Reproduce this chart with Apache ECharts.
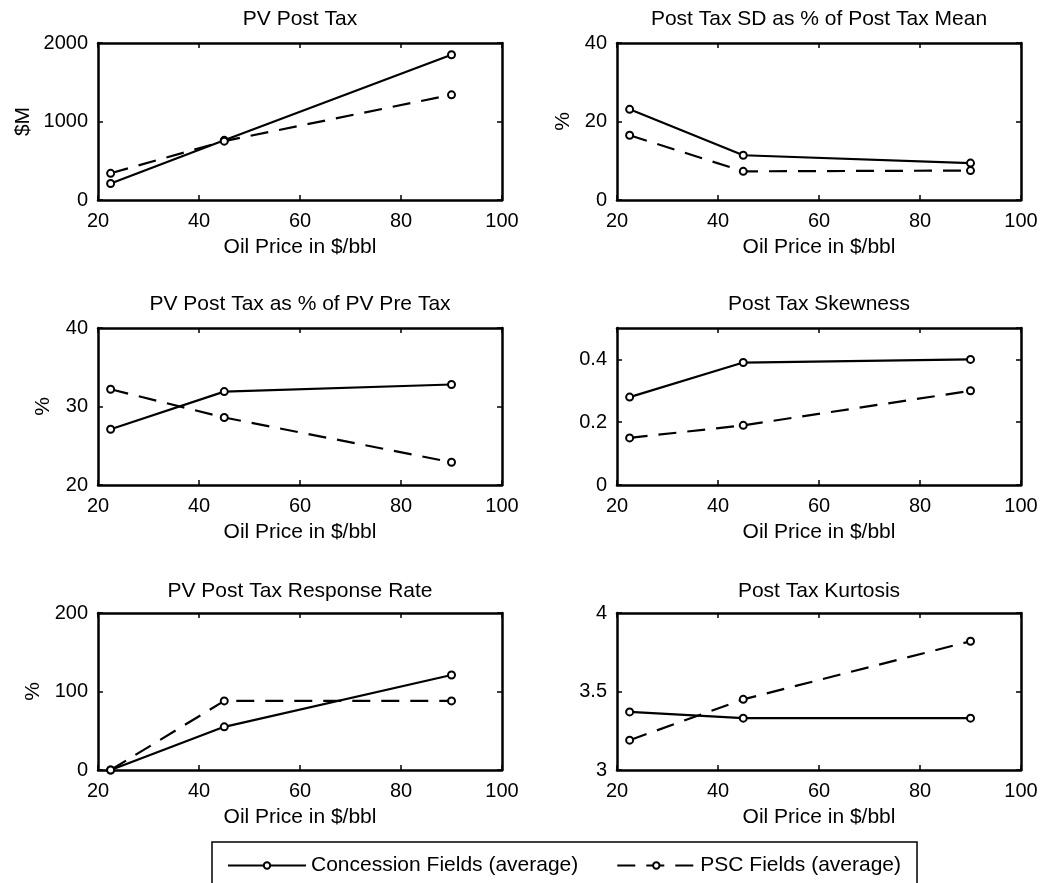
<!DOCTYPE html>
<html>
<head>
<meta charset="utf-8">
<script src="https://cdn.jsdelivr.net/npm/echarts@6/dist/echarts.min.js"></script>
<style>
  html, body { margin: 0; padding: 0; background: #fff; }
  #chart { width: 1041px; height: 883px; }
</style>
</head>
<body>
<div id="chart"></div>
<script>
// Oil price scenarios ($/bbl)
const oilPrices = [22.5, 45, 90];

// PV post tax ($M)
const pvPostTaxConcession = [210, 760, 1850];
const pvPostTaxPsc = [340, 750, 1340];

// Post tax SD as % of post tax mean
const sdPctConcession = [23.1, 11.4, 9.4];
const sdPctPsc = [16.5, 7.3, 7.5];

// PV post tax as % of PV pre tax
const postPrePctConcession = [27.1, 31.9, 32.8];
const postPrePctPsc = [32.2, 28.6, 22.9];

// Post tax skewness
const skewConcession = [0.28, 0.39, 0.40];
const skewPsc = [0.15, 0.19, 0.30];

// PV post tax response rate (%)
const responseConcession = [0, 55, 121];
const responsePsc = [0, 88, 88];

// Post tax kurtosis
const kurtConcession = [3.37, 3.33, 3.33];
const kurtPsc = [3.19, 3.45, 3.82];

const seriesNames = ['Concession Fields (average)', 'PSC Fields (average)'];
const panelTitles = [
  'PV Post Tax',
  'Post Tax SD as % of Post Tax Mean',
  'PV Post Tax as % of PV Pre Tax',
  'Post Tax Skewness',
  'PV Post Tax Response Rate',
  'Post Tax Kurtosis'
];
const yAxisNames = ['$M', '%', '%', '', '%', ''];
const yMins = [0, 0, 20, 0, 0, 3];
const yMaxs = [2000, 40, 40, 0.5, 200, 4];
const yIntervals = [1000, 20, 10, 0.2, 100, 0.5];
const xAxisName = 'Oil Price in $/bbl';

const panelData = [
  [pvPostTaxConcession, pvPostTaxPsc],
  [sdPctConcession, sdPctPsc],
  [postPrePctConcession, postPrePctPsc],
  [skewConcession, skewPsc],
  [responseConcession, responsePsc],
  [kurtConcession, kurtPsc]
];

// Layout of the 3x2 panel grid
const FONT = 'Liberation Sans, Arial, Helvetica, sans-serif';
const colLeft = [98, 617];
const colWidth = 404;
const rowTop = [43, 328, 613];
const rowHeight = 157;
const titleTop = [9, 294, 581];
const yNameGaps = [64, 43, 44, 0, 54, 0];

const black = '#000';
const axisLine = { show: true, onZero: false, lineStyle: { color: black, width: 2.5 } };
const axisTick = { show: true, inside: true, length: 5, lineStyle: { color: black, width: 1.5 } };
const labelStyle = { color: black, fontSize: 20, fontFamily: FONT };
const plainNumber = v => String(Math.round(v * 1000) / 1000);

const grids = [], xAxes = [], yAxes = [], titles = [], series = [];

panelTitles.forEach((t, i) => {
  const col = i % 2, row = Math.floor(i / 2);
  const left = colLeft[col], top = rowTop[row];
  grids.push({ left: left, top: top, width: colWidth, height: rowHeight, containLabel: false });

  titles.push({
    text: t,
    left: left + colWidth / 2,
    top: titleTop[row],
    textAlign: 'center',
    padding: 0,
    textStyle: { color: black, fontSize: 21, fontWeight: 'normal', fontFamily: FONT }
  });

  // bottom (labelled) and top (ticks only) x axes
  xAxes.push({
    type: 'value', gridIndex: i, position: 'bottom',
    min: 20, max: 100, interval: 20,
    axisLine: axisLine, axisTick: axisTick, splitLine: { show: false },
    axisLabel: Object.assign({ margin: 11, formatter: plainNumber }, labelStyle),
    name: xAxisName, nameLocation: 'middle', nameGap: 37,
    nameTextStyle: { color: black, fontSize: 21, fontFamily: FONT }
  });
  xAxes.push({
    type: 'value', gridIndex: i, position: 'top',
    min: 20, max: 100, interval: 20,
    axisLine: axisLine, axisTick: axisTick, splitLine: { show: false },
    axisLabel: { show: false }
  });

  // left (labelled) and right (ticks only) y axes
  yAxes.push({
    type: 'value', gridIndex: i, position: 'left',
    min: yMins[i], max: yMaxs[i], interval: yIntervals[i],
    axisLine: axisLine, axisTick: axisTick, splitLine: { show: false },
    axisLabel: Object.assign({ margin: 10, showMaxLabel: i !== 3, formatter: plainNumber }, labelStyle),
    name: yAxisNames[i], nameLocation: 'middle', nameGap: yNameGaps[i], nameRotate: 90,
    nameTextStyle: { color: black, fontSize: 21, fontFamily: FONT }
  });
  yAxes.push({
    type: 'value', gridIndex: i, position: 'right',
    min: yMins[i], max: yMaxs[i], interval: yIntervals[i],
    axisLine: axisLine, axisTick: axisTick, splitLine: { show: false },
    axisLabel: { show: false }
  });

  panelData[i].forEach((vals, s) => {
    series.push({
      name: seriesNames[s],
      type: 'line',
      xAxisIndex: 2 * i,
      yAxisIndex: 2 * i,
      data: oilPrices.map((x, k) => [x, vals[k]]),
      symbol: 'emptyCircle',
      symbolSize: 7,
      showSymbol: true,
      animation: false,
      itemStyle: { color: black, borderColor: black, borderWidth: 1.8 },
      lineStyle: { color: black, width: 2.2, type: s === 0 ? 'solid' : [18, 11] },
      z: 3 + s
    });
  });
});

const chart = echarts.init(document.getElementById('chart'), null, { renderer: 'canvas' });
chart.setOption({
  backgroundColor: '#fff',
  animation: false,
  title: titles,
  grid: grids,
  xAxis: xAxes,
  yAxis: yAxes,
  legend: {
    data: seriesNames,
    left: 212,
    top: 842,
    orient: 'horizontal',
    itemWidth: 78,
    itemHeight: 8,
    itemGap: 38,
    padding: [13, 16, 30, 15],
    borderColor: black,
    borderWidth: 1.5,
    backgroundColor: '#fff',
    textStyle: { color: black, fontSize: 21, fontFamily: FONT },
    selectedMode: false
  },
  series: series
});
</script>
</body>
</html>
